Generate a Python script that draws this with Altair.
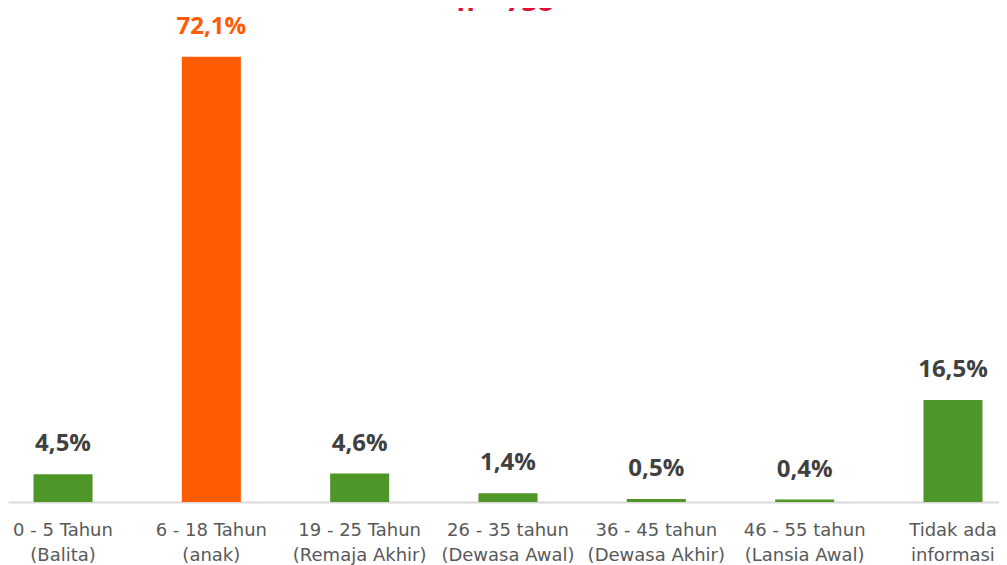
import altair as alt
import pandas as pd

categories = [
    "0 - 5 Tahun|(Balita)",
    "6 - 18 Tahun|(anak)",
    "19 - 25 Tahun|(Remaja Akhir)",
    "26 - 35 tahun|(Dewasa Awal)",
    "36 - 45 tahun|(Dewasa Akhir)",
    "46 - 55 tahun|(Lansia Awal)",
    "Tidak ada|informasi",
]
values = [4.5, 72.1, 4.6, 1.4, 0.5, 0.4, 16.5]
value_labels = ["4,5%", "72,1%", "4,6%", "1,4%", "0,5%", "0,4%", "16,5%"]
groups = ["other", "main", "other", "other", "other", "other", "other"]
title_text = "n = 738"

df = pd.DataFrame({"cat": categories, "val": values, "lab": value_labels, "grp": groups})

FONT = "Open Sans"
x = alt.X(
    "cat:N",
    sort=categories,
    title=None,
    scale=alt.Scale(paddingInner=0.602, paddingOuter=0.1416, align=0.607, round=False),
    axis=alt.Axis(
        labelExpr="split(datum.label, '|')",
        labelAngle=0,
        labelFont="DejaVu Sans",
        labelFontSize=18,
        labelColor="#595959",
        labelLineHeight=25,
        labelPadding=19,
        ticks=False,
        domainColor="#D9D9D9",
        domainWidth=2,
        grid=False,
    ),
)
y = alt.Y("val:Q", title=None, scale=alt.Scale(domain=[0, 80], nice=False), axis=None)
color = alt.Color(
    "grp:N",
    scale=alt.Scale(domain=["other", "main"], range=["#4F9628", "#FF5B00"]),
    legend=None,
)

bars = alt.Chart(df).mark_bar().encode(x=x, y=y, color=color)

text = alt.Chart(df).mark_text(
    font=FONT, fontSize=24, fontWeight="bold", baseline="alphabetic", dy=-23
).encode(
    x=alt.X("cat:N", sort=categories),
    y=y,
    text="lab:N",
    color=alt.Color(
        "grp:N",
        scale=alt.Scale(domain=["other", "main"], range=["#404040", "#FF5B00"]),
        legend=None,
    ),
)

title = alt.Chart(pd.DataFrame({"t": [title_text]})).mark_text(
    font=FONT, fontSize=28, fontWeight="bold", baseline="alphabetic", color="#E0103C"
).encode(x=alt.value(497), y=alt.value(3), text="t:N")

chart = (
    alt.layer(bars, text, title)
    .resolve_scale(color="independent")
    .properties(
        width=991,
        height=494,
        autosize=alt.AutoSizeParams(type="none"),
        padding={"left": 0, "top": 0, "right": 0, "bottom": 70},
    )
    .configure_view(stroke=None)
)

chart.save("out.html", embed_options={"renderer": "svg", "actions": False})
